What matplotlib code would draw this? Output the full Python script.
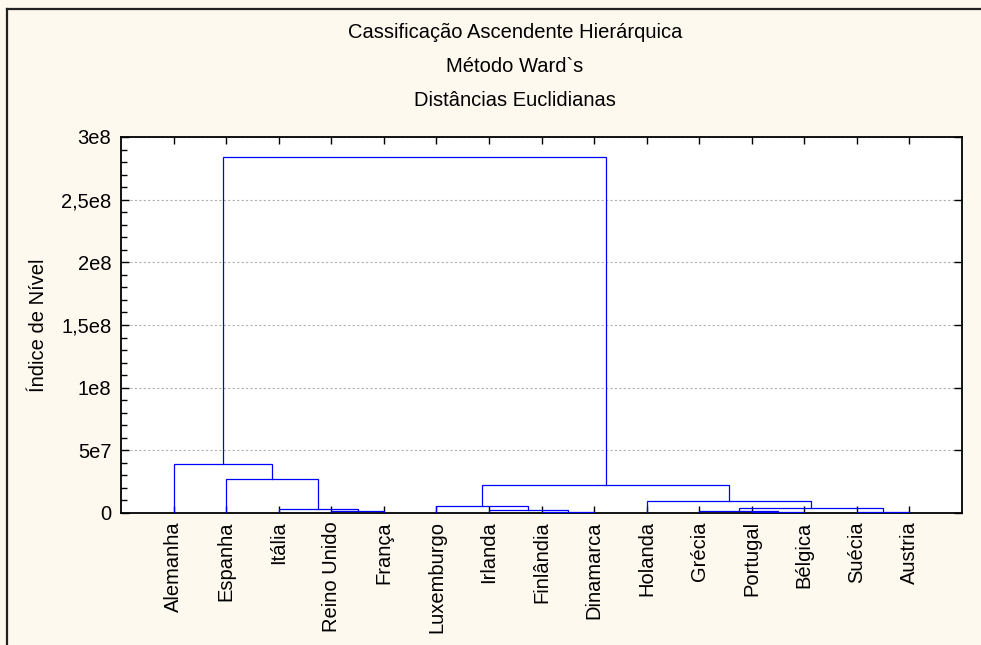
import matplotlib.pyplot as plt
from matplotlib.lines import Line2D
from matplotlib.ticker import MultipleLocator, FixedLocator, FixedFormatter

plt.rcParams['font.family'] = ['Liberation Sans', 'DejaVu Sans']

# Folhas (ordem do dendrograma)
leaves = ['Alemanha', 'Espanha', 'Itália', 'Reino Unido', 'França',
          'Luxemburgo', 'Irlanda', 'Finlândia', 'Dinamarca', 'Holanda',
          'Grécia', 'Portugal', 'Bélgica', 'Suécia', 'Austria']

# Fusões: (filho esquerdo, filho direito, nível); novos clusters numerados a partir de 15
merge_left = [3, 2, 1, 0, 7, 6, 5, 11, 10, 13, 23, 9, 21, 18]
merge_right = [4, 15, 16, 17, 8, 19, 20, 12, 22, 14, 24, 25, 26, 27]
merge_height = [1.2e6, 2.8e6, 27.4e6, 38.9e6, 1.0e6, 2.6e6, 5.8e6,
                0.9e6, 1.2e6, 1.0e6, 3.7e6, 9.6e6, 22.3e6, 284e6]

y_ticks = [0, 5e7, 1e8, 1.5e8, 2e8, 2.5e8, 3e8]
y_labels = ['0', '5e7', '1e8', '1,5e8', '2e8', '2,5e8', '3e8']

titles = ['Cassificação Ascendente Hierárquica', 'Método Ward`s',
          'Distâncias Euclidianas']

fs = 14.5
bg = '#fef9ef'
fig = plt.figure(figsize=(9.81, 6.45), dpi=100, facecolor=bg)
ax = fig.add_axes([121 / 981, 1 - 513 / 645, (962 - 121) / 981, (513 - 137) / 645])

# posição x e altura de cada nó
pos = {i: i + 1 for i in range(len(leaves))}
hgt = {i: 0.0 for i in range(len(leaves))}
n = len(leaves)
for k, (a, b, h) in enumerate(zip(merge_left, merge_right, merge_height)):
    xa, xb = pos[a], pos[b]
    ax.plot([xa, xa, xb, xb], [hgt[a], h, h, hgt[b]], color='#0000ff', lw=0.9,
            solid_joinstyle='miter', zorder=3)
    pos[n + k] = (xa + xb) / 2
    hgt[n + k] = h

ax.set_xlim(0, n + 1)
ax.set_ylim(0, 3e8)
ax.set_xticks(range(1, n + 1))
ax.set_xticklabels(leaves, rotation=90, fontsize=fs)
ax.yaxis.set_major_locator(FixedLocator(y_ticks))
ax.yaxis.set_major_formatter(FixedFormatter(y_labels))
ax.yaxis.set_minor_locator(MultipleLocator(1e7))
ax.tick_params(axis='y', labelsize=fs, direction='in', length=6, width=1,
               right=True, pad=7)
ax.tick_params(axis='y', which='minor', direction='in', length=4, width=1, right=False)
ax.tick_params(axis='x', direction='in', length=5, width=1, top=True, pad=6)
ax.grid(axis='y', color='#b0b0b0', linestyle=(0, (2, 2)), lw=0.8)
ax.set_axisbelow(True)
for s in ax.spines.values():
    s.set_linewidth(1.3)
ax.set_ylabel('Índice de Nível', fontsize=fs)
ax.yaxis.set_label_coords((48 - 121) / 841, 0.5)

for i, t in enumerate(titles):
    fig.text(515 / 981, 1 - (33 + 34 * i) / 645, t, ha='center', va='center',
             fontsize=fs)

# moldura exterior
fig.add_artist(Line2D([7 / 981, 7 / 981], [0, 1 - 9 / 645], color='#222222', lw=1.6))
fig.add_artist(Line2D([7 / 981, 1], [1 - 9 / 645, 1 - 9 / 645], color='#222222', lw=1.6))

fig.savefig('out.png', dpi=100, facecolor=bg)
